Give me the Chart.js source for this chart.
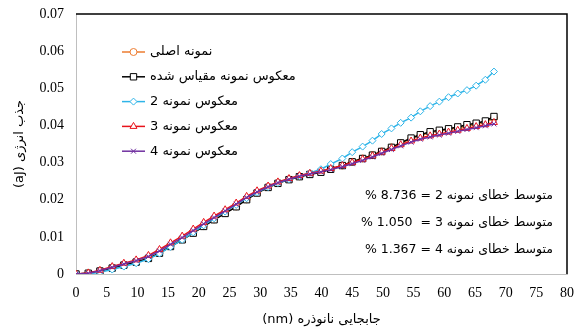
<!DOCTYPE html>
<html>
<head>
  <meta charset="utf-8">
  <title>جذب انرژی</title>
  <script src="https://cdn.jsdelivr.net/npm/chart.js"></script>
  <style>
    body { margin: 0; background: #fff; }
    #box { width: 576px; height: 330px; }
  </style>
</head>
<body>
  <div id="box"><canvas id="chart" dir="rtl" style="direction: rtl"></canvas></div>

  <script>
    // جابجایی نانوذره (nm)
    const jabejai = [0, 2, 3.9, 5.9, 7.8, 9.8, 11.8, 13.6, 15.4, 17.3, 19.1, 20.8, 22.5, 24.3, 26.1, 27.8, 29.5, 31.3, 32.9, 34.7,
      36.4, 38.1, 39.9, 41.5, 43.4, 45, 46.7, 48.3, 49.8, 51.4, 52.9, 54.6, 56.1, 57.7, 59.2, 60.7, 62.2, 63.7, 65.2, 66.7, 68.1];

    const asli = [0, 0.0002, 0.0008, 0.0016, 0.0025, 0.0033, 0.0043, 0.0057, 0.0075, 0.0093, 0.0111, 0.0129, 0.0147, 0.0164, 0.0182, 0.0201, 0.0219, 0.0234, 0.0245, 0.0255,
      0.0263, 0.0269, 0.0275, 0.0283, 0.0292, 0.0302, 0.0311, 0.0320, 0.0330, 0.0341, 0.0352, 0.0364, 0.0373, 0.0380, 0.0385, 0.0389, 0.0393, 0.0398, 0.0403, 0.0408, 0.0420];
    const maghyas = [0, 0.0002, 0.0008, 0.0016, 0.0024, 0.0032, 0.0042, 0.0056, 0.0074, 0.0092, 0.0110, 0.0128, 0.0146, 0.0163, 0.0181, 0.0200, 0.0218, 0.0233, 0.0244, 0.0254,
      0.0262, 0.0268, 0.0274, 0.0282, 0.0292, 0.0302, 0.0311, 0.0320, 0.0330, 0.0341, 0.0353, 0.0366, 0.0375, 0.0383, 0.0387, 0.0391, 0.0396, 0.0402, 0.0406, 0.0412, 0.0424];
    const nemooneh2 = [0, 0.0000, 0.0005, 0.0012, 0.0020, 0.0029, 0.0040, 0.0055, 0.0073, 0.0092, 0.0112, 0.0131, 0.0150, 0.0168, 0.0186, 0.0204, 0.0220, 0.0234, 0.0245, 0.0255,
      0.0264, 0.0272, 0.0282, 0.0296, 0.0311, 0.0328, 0.0343, 0.0359, 0.0377, 0.0392, 0.0407, 0.0421, 0.0438, 0.0452, 0.0464, 0.0476, 0.0486, 0.0495, 0.0507, 0.0523, 0.0545];
    const nemooneh3 = [0, 0.0003, 0.0010, 0.0020, 0.0029, 0.0038, 0.0050, 0.0066, 0.0084, 0.0102, 0.0121, 0.0139, 0.0156, 0.0173, 0.0191, 0.0209, 0.0224, 0.0237, 0.0248, 0.0257,
      0.0265, 0.0271, 0.0277, 0.0284, 0.0292, 0.0300, 0.0309, 0.0318, 0.0328, 0.0338, 0.0348, 0.0358, 0.0366, 0.0372, 0.0377, 0.0382, 0.0387, 0.0392, 0.0397, 0.0402, 0.0408];
    const nemooneh4 = [0, 0.0002, 0.0009, 0.0018, 0.0027, 0.0036, 0.0047, 0.0062, 0.0080, 0.0098, 0.0117, 0.0135, 0.0152, 0.0170, 0.0188, 0.0206, 0.0221, 0.0235, 0.0246, 0.0255,
      0.0263, 0.0269, 0.0275, 0.0281, 0.0289, 0.0297, 0.0306, 0.0315, 0.0325, 0.0335, 0.0345, 0.0355, 0.0363, 0.0369, 0.0374, 0.0379, 0.0384, 0.0389, 0.0394, 0.0399, 0.0404];

    const barchasbha = ['نمونه اصلی', 'معکوس نمونه مقیاس شده', 'معکوس نمونه 2', 'معکوس نمونه 3', 'معکوس نمونه 4'];
    const khatha = ['متوسط خطای نمونه 2 = 8.736 %', 'متوسط خطای نمونه 3 =  1.050 %', 'متوسط خطای نمونه 4 = 1.367 %'];

    const fontArabic = '"DejaVu Sans", "Liberation Serif", serif';
    const fontAdad = '"Liberation Serif", "DejaVu Serif", serif';

    function noghat(ys) {
      return jabejai.map((x, i) => ({ x: x, y: ys[i] }));
    }

    function seri(label, ys, rang, shekl, shoa, tartib) {
      return {
        label: label,
        data: noghat(ys),
        borderColor: rang,
        backgroundColor: '#ffffff',
        borderWidth: 1.5,
        pointStyle: shekl,
        pointRadius: shoa,
        pointBorderColor: rang,
        pointBackgroundColor: '#ffffff',
        pointBorderWidth: 1,
        fill: false,
        tension: 0,
        order: tartib,
      };
    }

    // راهنما و متن‌ها و قاب
    const ezafeh = {
      id: 'ezafeh',
      beforeDraw(chart) {
        chart.ctx.direction = 'rtl';
      },
      afterDraw(chart) {
        const ctx = chart.ctx;
        const a = chart.chartArea;
        ctx.save();
        ctx.direction = 'rtl';

        // قاب بالا و راست
        ctx.strokeStyle = '#000000';
        ctx.lineWidth = 1.5;
        ctx.beginPath();
        ctx.moveTo(a.left, a.top);
        ctx.lineTo(a.right, a.top);
        ctx.lineTo(a.right, a.bottom);
        ctx.stroke();

        // راهنما
        chart.data.datasets.forEach((ds, i) => {
          const y = 52 + i * 24.8;
          ctx.strokeStyle = ds.borderColor;
          ctx.lineWidth = 1.5;
          ctx.beginPath();
          ctx.moveTo(122, y);
          ctx.lineTo(145, y);
          ctx.stroke();
          ctx.fillStyle = '#ffffff';
          ctx.strokeStyle = ds.borderColor;
          ctx.lineWidth = 1;
          Chart.helpers.drawPoint(ctx, { pointStyle: ds.pointStyle, radius: ds.pointRadius, rotation: 0, borderWidth: 1 }, 133.5, y);
          ctx.fillStyle = '#000000';
          ctx.font = '13px ' + fontArabic;
          ctx.textAlign = 'left';
          ctx.textBaseline = 'middle';
          ctx.fillText(ds.label, 150, y);
        });

        // متوسط خطا
        ctx.fillStyle = '#000000';
        ctx.font = '12.5px ' + fontArabic;
        ctx.textAlign = 'right';
        ctx.textBaseline = 'middle';
        khatha.forEach((t, i) => {
          ctx.fillText(t, 553, 196 + i * 27);
        });
        ctx.restore();
      }
    };

    const ctx = document.getElementById('chart').getContext('2d');

    const nemoodar = new Chart(ctx, {
      type: 'line',
      data: {
        datasets: [
          seri(barchasbha[0], asli, '#ED7D31', 'circle', 3.5, 5),
          seri(barchasbha[1], maghyas, '#000000', 'rect', 4.5, 4),
          seri(barchasbha[2], nemooneh2, '#2EB4E8', 'rectRot', 3.5, 3),
          seri(barchasbha[3], nemooneh3, '#E8131B', 'triangle', 4, 2),
          seri(barchasbha[4], nemooneh4, '#7030A0', 'crossRot', 3.5, 1),
        ],
      },
      options: {
        responsive: true,
        maintainAspectRatio: false,
        animation: false,
        layout: { padding: { top: 14, right: 9, left: 0, bottom: 0 } },
        plugins: {
          legend: { display: false },
          tooltip: { enabled: false },
        },
        scales: {
          x: {
            type: 'linear',
            min: 0,
            max: 80,
            ticks: {
              stepSize: 5,
              color: '#000000',
              padding: 11,
              maxRotation: 0,
              font: { family: fontAdad, size: 14 },
            },
            grid: { display: false, drawTicks: false },
            border: { color: '#bfbfbf', width: 1 },
            title: {
              display: true,
              text: 'جابجایی نانوذره (nm)',
              color: '#000000',
              font: { family: fontArabic, size: 13 },
              padding: { top: 0, bottom: 3 },
            },
            afterFit(scale) {
              scale.height = 56;
              scale.paddingLeft = 0;
              scale.paddingRight = 0;
            },
          },
          y: {
            min: 0,
            max: 0.07,
            ticks: {
              stepSize: 0.01,
              color: '#000000',
              padding: 12,
              font: { family: fontAdad, size: 14 },
              callback: (v) => (v === 0 ? '0' : v.toFixed(2)),
            },
            grid: { display: false, drawTicks: false },
            border: { color: '#bfbfbf', width: 1 },
            title: {
              display: true,
              text: 'جذب انرژی (aJ)',
              color: '#000000',
              font: { family: fontArabic, size: 13 },
              padding: { top: 12, bottom: 0 },
            },
            afterFit(scale) {
              scale.width = 76;
              scale.paddingTop = 0;
              scale.paddingBottom = 0;
            },
          },
        },
      },
      plugins: [ezafeh],
    });
  </script>
</body>
</html>
